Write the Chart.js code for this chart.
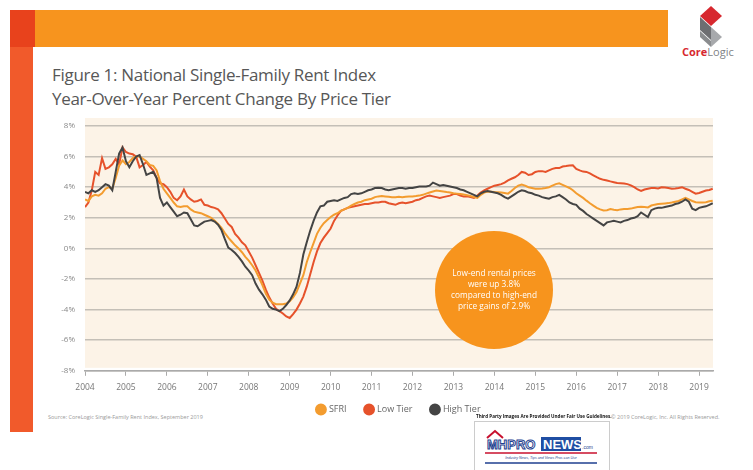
<!DOCTYPE html>
<html><head><meta charset="utf-8">
<script src="https://cdn.jsdelivr.net/npm/chart.js@4"></script>
<style>
html,body{margin:0;padding:0;background:#fff;}
#wrap{position:relative;width:753px;height:470px;overflow:hidden;font-family:"Open Sans",sans-serif;}
#c{position:absolute;left:0;top:0;z-index:2;}
.abs{position:absolute;}
.title{left:52px;color:#575757;font-size:17px;white-space:nowrap;letter-spacing:-0.3px;}
.tiny{font-size:5.5px;color:#9a9a9a;white-space:nowrap;}
</style></head><body>
<div id="wrap">
  <div class="abs" style="left:10px;top:10px;width:25px;height:37px;background:#e8421c"></div>
  <div class="abs" style="left:10px;top:47px;width:23px;height:385px;background:#f15a2b"></div>
  <div class="abs" style="left:35px;top:10px;width:633px;height:37px;background:#f7941e"></div>
  <svg class="abs" style="left:676px;top:2px" width="72" height="62" viewBox="0 0 72 62">
    <polygon points="24,14 35,4 46,14 35,24" fill="#d7282f"/>
    <polygon points="24,15 35,25 35,38 24,28" fill="#6d6e71"/>
    <polygon points="35,25 46,35 35,45" fill="#a7a9ac"/>
    <polygon points="24,29 35,39 35,45 24,35" fill="#8a8c8e"/>
    <text x="6" y="54" font-family="Open Sans" font-size="11"><tspan fill="#d7282f" font-weight="bold">Core</tspan><tspan fill="#808285">Logic</tspan></text>
  </svg>
  <div class="abs title" style="top:63px">Figure 1: National Single-Family Rent Index</div>
  <div class="abs title" style="top:87px">Year-Over-Year Percent Change By Price Tier</div>
  <canvas id="c" width="753" height="470"></canvas>
  <div class="abs" style="z-index:3;left:435px;top:231px;width:118px;height:118px;border-radius:50%;background:#f7941d;display:flex;align-items:center;justify-content:center;text-align:center;color:#fff;font-size:8.3px;line-height:10.8px;">
    <div>Low-end rental prices<br>were up 3.8%<br>compared to high-end<br>price gains of 2.9%</div>
  </div>
  <div class="abs tiny" style="left:48px;top:413px">Source: CoreLogic Single-Family Rent Index, September 2019</div>
  <div class="abs tiny" style="left:611px;top:413px">© 2019 CoreLogic, Inc. All Rights Reserved.</div>
  <div class="abs" style="z-index:4;left:476px;top:413px;font-size:4.6px;font-weight:bold;color:#111;white-space:nowrap;">Third Party Images Are Provided Under Fair Use Guidelines.</div>
  <div class="abs" style="left:474px;top:421px;width:134px;height:49px;background:#fff;border:1px solid #ccc;border-bottom:none;">
    <svg width="134" height="49" viewBox="0 0 134 49">
      <polyline points="12,16 20,9 28,16" fill="none" stroke="#c8102e" stroke-width="2"/>
      <text x="12" y="27" font-family="Liberation Sans" font-weight="bold" font-size="13" fill="#fff" stroke="#1f3f8f" stroke-width="1">MHPRO</text>
      <rect x="66" y="15" width="40" height="14" fill="#1f4ea3"/>
      <text x="68" y="27" font-family="Liberation Sans" font-weight="bold" font-size="13" fill="#fff">NEWS</text>
      <text x="107" y="27" font-family="Liberation Sans" font-size="5" fill="#1f3f8f">.com</text>
      <line x1="10" y1="31" x2="122" y2="31" stroke="#c8102e" stroke-width="1.5"/>
      <text x="66" y="37" text-anchor="middle" font-family="Liberation Sans" font-style="italic" font-size="3.6" fill="#1f3f8f">Industry News, Tips and Views Pros can Use</text>
      <line x1="10" y1="41" x2="122" y2="41" stroke="#1f3f8f" stroke-width="1.5"/>
    </svg>
  </div>
</div>
<script>
const startYear = 2004;
const yearTicks = [2004,2005,2006,2007,2008,2009,2010,2011,2012,2013,2014,2015,2016,2017,2018,2019];
const seriesNames = ['SFRI','Low Tier','High Tier'];
// monthly, Jan 2004 .. May 2019
const sfri = [
 3.2,3.1,3.4,3.5,3.45,3.6,3.9,4.0,3.9,4.6,5.4,5.75,
 5.5,5.65,5.9,6.0,6.0,5.85,5.7,5.45,5.4,5.1,4.4,3.9,
 3.6,3.3,3.0,2.75,2.7,2.75,2.75,2.55,2.4,2.35,2.3,2.2,
 2.1,2.0,1.8,1.6,1.35,1.0,0.7,0.45,0.2,0.0,-0.25,-0.55,
 -0.8,-1.1,-1.45,-1.9,-2.4,-2.95,-3.35,-3.55,-3.65,-3.65,-3.65,-3.6,
 -3.45,-3.2,-2.85,-2.3,-1.75,-0.9,-0.25,0.35,0.95,1.35,1.65,1.85,
 2.05,2.2,2.3,2.45,2.55,2.65,2.8,2.9,3.0,3.05,3.15,3.2,
 3.25,3.35,3.4,3.42,3.4,3.38,3.35,3.35,3.38,3.35,3.38,3.4,
 3.4,3.42,3.45,3.5,3.58,3.65,3.72,3.78,3.75,3.72,3.68,3.65,
 3.6,3.58,3.55,3.52,3.48,3.42,3.35,3.3,3.5,3.65,3.72,3.7,
 3.68,3.67,3.65,3.62,3.58,3.75,3.95,4.1,4.18,4.1,4.0,3.95,
 3.9,3.9,3.92,3.95,4.0,4.1,4.2,4.25,4.15,4.05,3.95,3.8,
 3.6,3.45,3.3,3.12,2.95,2.8,2.65,2.55,2.48,2.5,2.57,2.52,
 2.5,2.55,2.57,2.58,2.6,2.66,2.7,2.72,2.7,2.68,2.8,2.86,
 2.9,2.92,2.94,2.96,3.0,3.05,3.1,3.2,3.3,3.2,3.1,3.02,
 3.0,3.0,3.02,3.08,3.12
];
const lowTier = [
 2.7,3.0,3.8,5.0,4.8,5.9,5.2,5.3,5.5,5.85,5.5,6.6,
 6.3,6.2,6.15,6.0,5.3,5.45,5.65,5.35,5.1,4.6,4.25,4.2,
 4.0,3.7,3.3,3.15,3.4,3.85,3.4,3.2,3.05,3.1,3.2,2.85,
 2.8,2.7,2.65,2.55,2.3,1.95,1.6,1.4,0.95,0.7,0.4,0.2,
 -0.2,-0.6,-1.1,-1.6,-2.1,-2.7,-3.2,-3.6,-3.95,-4.1,-4.25,-4.45,
 -4.55,-4.3,-4.0,-3.6,-3.15,-2.5,-1.7,-0.9,-0.2,0.35,0.7,1.0,
 1.3,1.8,2.15,2.45,2.55,2.65,2.7,2.75,2.8,2.85,2.9,2.9,
 2.95,3.0,3.0,3.05,3.05,2.95,2.9,2.85,2.95,3.0,2.95,3.0,
 3.05,3.15,3.2,3.3,3.4,3.45,3.4,3.35,3.3,3.35,3.4,3.45,
 3.55,3.55,3.45,3.4,3.4,3.35,3.3,3.45,3.65,3.8,3.9,4.0,
 4.1,4.15,4.2,4.3,4.45,4.55,4.65,4.8,5.0,4.95,4.8,4.85,
 5.0,5.05,5.05,5.0,5.1,5.2,5.25,5.25,5.35,5.38,5.42,5.43,
 5.2,5.1,5.02,5.0,4.9,4.78,4.66,4.55,4.48,4.44,4.38,4.33,
 4.28,4.26,4.24,4.2,4.12,4.0,3.85,3.75,3.85,3.9,3.95,3.95,
 3.92,4.0,3.98,3.95,3.9,3.92,3.95,4.0,3.9,3.82,3.7,3.58,
 3.62,3.7,3.78,3.82,3.9
];
const highTier = [
 3.7,3.6,3.8,3.7,3.8,4.0,4.2,4.1,3.8,5.0,6.2,6.6,
 5.7,5.3,5.7,6.0,6.1,5.5,4.8,4.9,5.0,4.6,3.3,2.8,
 3.0,2.7,2.4,2.1,2.2,2.35,2.3,1.9,1.5,1.45,1.6,1.75,
 1.8,1.85,1.75,1.55,1.2,0.6,0.05,-0.1,-0.3,-0.55,-0.85,-1.2,
 -1.45,-1.75,-2.3,-2.7,-3.0,-3.35,-3.8,-3.95,-4.0,-4.1,-3.95,-3.7,
 -3.4,-3.0,-2.5,-1.6,-0.4,0.4,1.15,1.8,2.35,2.75,2.8,3.05,
 3.1,3.15,3.1,3.2,3.3,3.35,3.55,3.6,3.55,3.6,3.7,3.8,
 3.85,3.95,3.97,3.95,3.85,3.8,3.85,3.9,3.95,3.95,3.9,3.95,
 3.95,4.0,4.05,4.05,4.05,4.1,4.3,4.2,4.1,4.15,4.1,4.05,
 4.0,3.95,3.85,3.8,3.7,3.6,3.5,3.4,3.6,3.7,3.75,3.7,
 3.65,3.6,3.5,3.35,3.25,3.4,3.55,3.7,3.8,3.75,3.65,3.6,
 3.5,3.45,3.35,3.3,3.25,3.35,3.4,3.5,3.35,3.2,3.0,2.9,
 2.85,2.6,2.45,2.25,2.1,1.95,1.8,1.65,1.5,1.7,1.75,1.8,
 1.75,1.7,1.8,1.85,1.95,2.0,2.1,2.35,2.2,2.05,2.5,2.6,
 2.65,2.65,2.7,2.75,2.8,2.9,2.95,3.05,3.2,3.05,2.6,2.5,
 2.65,2.7,2.75,2.85,2.95
];
const colors = ['#f39c2f','#e6522b','#444444'];
const toPoints = arr => arr.map((v,i)=>({x: startYear + i/12, y: v}));

const bgPlugin = {
  id:'bg',
  afterLayout(chart){
    const L = chart.legend, a = chart.chartArea;
    if (!L) return;
    const dx = (a.left + a.right)/2 - (L.left + L.right)/2;
    L.left += dx; L.right += dx;
    L.top -= 14; L.bottom -= 14;
  },
  beforeDraw(chart){
    const {ctx, chartArea:a} = chart;
    ctx.save();
    ctx.fillStyle = '#fcf3e7';
    ctx.fillRect(a.left, a.top-8, a.right-a.left, a.bottom-a.top+5);
    ctx.restore();
  }
};

new Chart(document.getElementById('c'), {
  type:'line',
  data:{
    datasets:[sfri, lowTier, highTier].map((arr,k)=>({
      label: seriesNames[k],
      data: toPoints(arr),
      borderColor: colors[k],
      backgroundColor: colors[k],
      borderWidth: 2,
      pointRadius: 0,
      tension: 0,
      order: k===2 ? 0 : (k===0 ? 1 : 2)
    }))
  },
  options:{
    responsive:false,
    animation:false,
    layout:{padding:{top:126,left:35,right:40,bottom:32}},
    plugins:{
      tooltip:{enabled:false},
      legend:{
        position:'bottom',
        labels:{usePointStyle:true, pointStyle:'circle', boxWidth:7, boxHeight:7, padding:19, color:'#666', font:{family:'Open Sans', size:9},
          sort:(a,b)=>a.datasetIndex-b.datasetIndex}
      }
    },
    scales:{
      x:{
        type:'linear', min:2004, max:2019.34,
        afterBuildTicks(s){ s.ticks = yearTicks.map(v=>({value:v})); },
        ticks:{autoSkip:false, maxRotation:0, padding:7, color:'#777', font:{family:'Open Sans', size:8.5}, callback:v=>String(v)},
        grid:{drawOnChartArea:false, drawTicks:true, tickLength:5, color:'#aaa', lineWidth:1},
        border:{display:true, color:'#aaa', width:1.5}
      },
      y:{
        min:-8, max:8,
        afterFit(s){ s.width = 50; },
        ticks:{stepSize:2, padding:10, color:'#8a8a8a', font:{family:'Open Sans', size:8}, callback:v=>v+'%'},
        grid:{color:'#c4bfb7', lineWidth:1.5, drawTicks:false},
        border:{display:false}
      }
    }
  },
  plugins:[bgPlugin]
});
</script>
</body></html>
